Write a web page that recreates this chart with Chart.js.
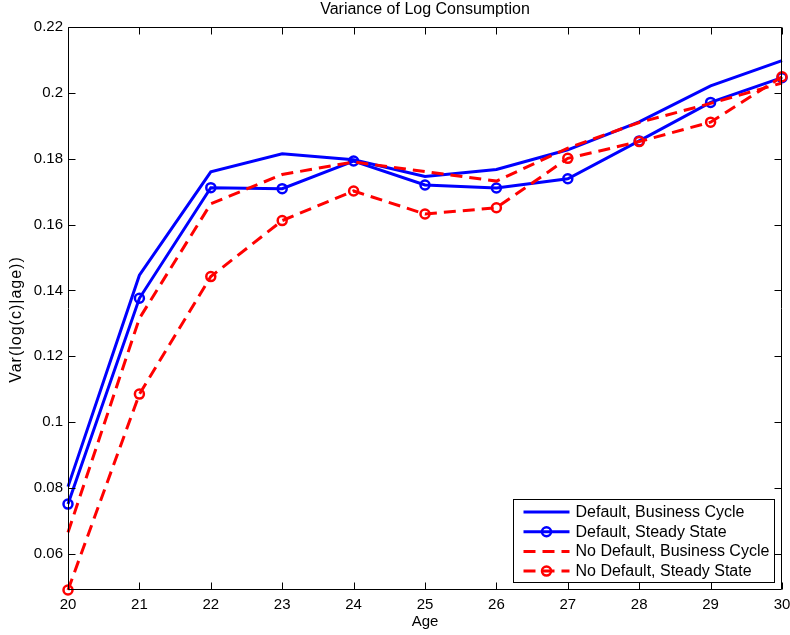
<!DOCTYPE html>
<html><head><meta charset="utf-8">
<script src="https://cdn.jsdelivr.net/npm/chart.js@4.4.0/dist/chart.umd.min.js"></script>
<style>html,body{margin:0;padding:0;background:#fff}#wrap{width:790px;height:635px}</style>
</head><body><div id="wrap"><canvas id="c" width="790" height="635"></canvas></div>
<script>
const ages = [20, 21, 22, 23, 24, 25, 26, 27, 28, 29, 30];
const defaultBC   = [0.0804, 0.1446, 0.1760, 0.1815, 0.1797, 0.1746, 0.1767, 0.1827, 0.1912, 0.2021, 0.2098];
const defaultSS   = [0.0751, 0.1376, 0.1712, 0.1709, 0.1793, 0.1720, 0.1711, 0.1739, 0.1854, 0.1971, 0.2046];
const noDefaultBC = [0.0665, 0.1315, 0.1663, 0.1752, 0.1790, 0.1761, 0.1732, 0.1832, 0.1910, 0.1968, 0.2030];
const noDefaultSS = [0.0490, 0.1085, 0.1442, 0.1612, 0.1702, 0.1632, 0.1651, 0.1801, 0.1852, 0.1911, 0.2049];
const yTicks = [0.06, 0.08, 0.10, 0.12, 0.14, 0.16, 0.18, 0.20, 0.22];
const seriesLabels = ['Default, Business Cycle', 'Default, Steady State', 'No Default, Business Cycle', 'No Default, Steady State'];
const chartTitle = 'Variance of Log Consumption';
const xTitle = 'Age';
const yTitle = 'Var(log(c)|age))';

const FONT = "'Liberation Sans', Arial, Helvetica, sans-serif";
const BLUE = '#0000ff', RED = '#ff0000';
const DASH = [12, 7];

const framePlugin = {
  id: 'frame',
  afterDraw(chart) {
    const ctx = chart.ctx, a = chart.chartArea;
    const xs = chart.scales.x, ys = chart.scales.y;
    ctx.save();
    ctx.strokeStyle = '#000'; ctx.lineWidth = 1; ctx.setLineDash([]);
    const L = Math.round(a.left) + 0.5, R = Math.round(a.right) - 0.5, T = Math.round(a.top) + 0.5, B = Math.round(a.bottom) - 0.5;
    ctx.beginPath();
    ctx.rect(L, T, R - L, B - T);
    const tl = 7;
    xs.ticks.forEach((t, i) => {
      const px = Math.round(xs.getPixelForTick(i)) + 0.5;
      ctx.moveTo(px, B); ctx.lineTo(px, B - tl);
      ctx.moveTo(px, T); ctx.lineTo(px, T + tl);
    });
    ys.ticks.forEach((t) => {
      const py = Math.round(ys.getPixelForValue(t.value)) + 0.5;
      ctx.moveTo(L, py); ctx.lineTo(L + tl, py);
      ctx.moveTo(R, py); ctx.lineTo(R - tl, py);
    });
    ctx.stroke();
    // chart title, centred over the axes
    ctx.fillStyle = '#000';
    ctx.font = '16px ' + FONT;
    ctx.textAlign = 'center'; ctx.textBaseline = 'middle';
    ctx.fillText(chartTitle, (a.left + a.right) / 2, 10);
    // y-axis title
    ctx.save();
    ctx.translate(17, (a.top + a.bottom) / 2 + 11);
    ctx.rotate(-Math.PI / 2);
    if ('letterSpacing' in ctx) ctx.letterSpacing = '1px';
    ctx.font = '16px ' + FONT;
    ctx.fillText(yTitle, 0, 0);
    ctx.restore();
    // legend
    const bw = 261, bh = 83;
    const bx = Math.round(a.right - 8 - bw) + 0.5, by = Math.round(a.bottom - 8 - bh) + 0.5;
    ctx.fillStyle = '#fff';
    ctx.fillRect(bx, by, bw, bh);
    ctx.strokeStyle = '#000'; ctx.lineWidth = 1;
    ctx.strokeRect(bx, by, bw, bh);
    chart.data.datasets.forEach((ds, i) => {
      const cy = by + 12.5 + i * 19.7;
      const x0 = bx + 10, x1 = bx + 56;
      ctx.save();
      ctx.strokeStyle = ds.borderColor; ctx.lineWidth = ds.borderWidth;
      ctx.setLineDash(ds.borderDash || []);
      ctx.beginPath(); ctx.moveTo(x0, cy); ctx.lineTo(x1, cy); ctx.stroke();
      if (ds.pointRadius > 0) {
        ctx.setLineDash([]);
        ctx.lineWidth = ds.pointBorderWidth;
        ctx.strokeStyle = ds.pointBorderColor;
        ctx.beginPath(); ctx.arc((x0 + x1) / 2, cy, ds.pointRadius, 0, Math.PI * 2); ctx.stroke();
      }
      ctx.restore();
      ctx.fillStyle = '#000';
      ctx.font = '16px ' + FONT;
      ctx.textAlign = 'left'; ctx.textBaseline = 'middle';
      ctx.fillText(ds.label, x1 + 6, cy + 0.5);
    });
    ctx.restore();
  }
};

function makeSet(label, data, color, dashed, markers, order) {
  return {
    label, data,
    borderColor: color, backgroundColor: color,
    borderWidth: 3, borderDash: dashed ? DASH : [],
    pointRadius: markers ? 4.5 : 0,
    pointBorderWidth: 2.5,
    pointBorderColor: color,
    pointBackgroundColor: 'rgba(0,0,0,0)',
    pointHoverRadius: markers ? 4.5 : 0,
    tension: 0, fill: false, clip: false, order
  };
}

new Chart(document.getElementById('c'), {
  type: 'line',
  data: {
    labels: ages,
    datasets: [
      makeSet(seriesLabels[0], defaultBC, BLUE, false, false, 3),
      makeSet(seriesLabels[1], defaultSS, BLUE, false, true, 2),
      makeSet(seriesLabels[2], noDefaultBC, RED, true, false, 1),
      makeSet(seriesLabels[3], noDefaultSS, RED, true, true, 0)
    ]
  },
  options: {
    responsive: false, animation: false, devicePixelRatio: 1,
    layout: { padding: { left: 0, right: 8, top: 27, bottom: 0 } },
    plugins: { legend: { display: false }, tooltip: { enabled: false }, title: { display: false } },
    events: [],
    scales: {
      x: {
        type: 'category', offset: false,
        grid: { display: false, drawTicks: false }, border: { display: false },
        ticks: { color: '#000', font: { family: FONT, size: 15 }, padding: 6, maxRotation: 0, autoSkip: false },
        title: { display: true, text: xTitle, color: '#000', font: { family: FONT, size: 15 }, padding: { top: 0, bottom: 4 } },
        afterFit: s => { s.height = 45; s.paddingLeft = 0; s.paddingRight = 0; }
      },
      y: {
        type: 'linear', min: 0.049, max: 0.22,
        grid: { display: false, drawTicks: false }, border: { display: false },
        afterBuildTicks: s => { s.ticks = yTicks.map(v => ({ value: v })); },
        ticks: { color: '#000', font: { family: FONT, size: 15 }, padding: 5,
                 callback: v => String(+Number(v).toFixed(2)) },
        title: { display: false },
        afterFit: s => { s.width = 68; s.paddingTop = 0; s.paddingBottom = 0; }
      }
    }
  },
  plugins: [framePlugin]
});
</script>
</body></html>
